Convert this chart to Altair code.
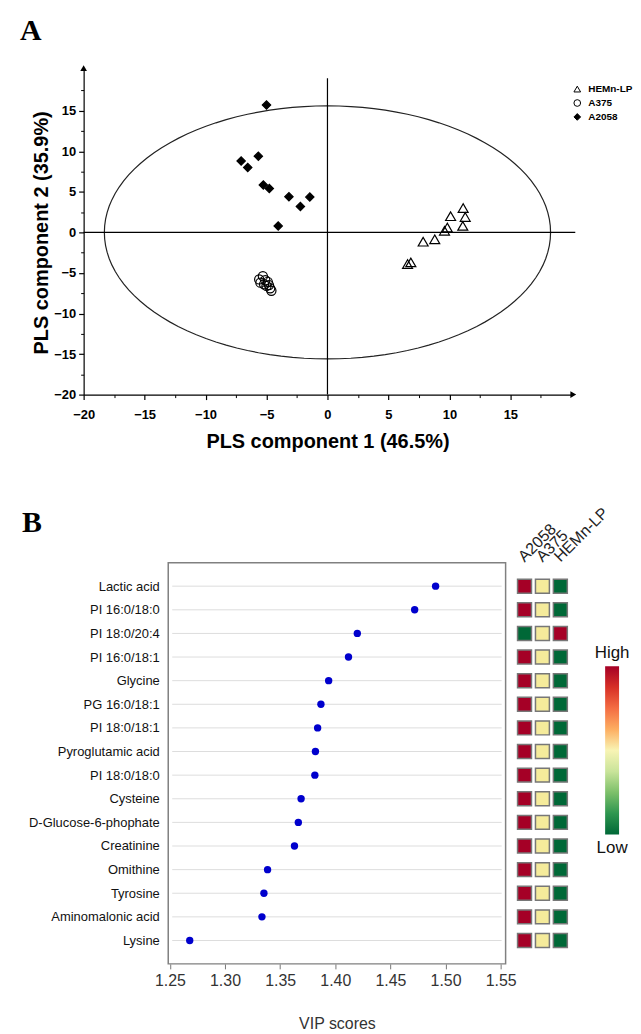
import altair as alt
import pandas as pd

# ---------------- Panel A : PLS score plot ----------------
HEMN_X = [11.13, 10.10, 11.30, 11.10, 9.83, 9.60, 8.80, 7.85, 6.84, 6.57]
HEMN_Y = [3.00, 2.00, 1.90, 0.80, 0.60, 0.20, -0.86, -1.15, -3.70, -3.90]
A375_X = [-5.3, -5.6, -5.1, -5.5, -4.9, -4.8, -5.2, -4.7, -4.6, -5.0]
A375_Y = [-5.4, -5.8, -5.9, -6.2, -6.1, -6.5, -6.4, -6.9, -7.2, -6.6]
A2058_X = [-5.00, -7.08, -5.67, -6.54, -5.26, -4.77, -3.16, -2.22, -1.45, -4.04]
A2058_Y = [15.7, 8.8, 9.4, 8.0, 5.85, 5.4, 4.4, 3.2, 4.35, 0.8]
GROUPS = ["HEMn-LP", "A375", "A2058"]
SHAPES = ["triangle-up", "circle", "diamond"]
FILLS = ["transparent", "transparent", "black"]
SIZES = [100, 70, 130]
ELLIPSE_A = 18.3
ELLIPSE_B = 15.6
X_TICKS_A = [-20, -15, -10, -5, 0, 5, 10, 15]
X_MINOR_A = [-17.5, -12.5, -7.5, -2.5, 2.5, 7.5, 12.5, 17.5]
Y_TICKS_A = [-20, -15, -10, -5, 0, 5, 10, 15]
Y_MINOR_A = [-17.5, -12.5, -7.5, -2.5, 2.5, 7.5, 12.5, 17.5]

# ---------------- Panel B : VIP scores ----------------
COMPOUNDS = ["Lactic acid", "PI 16:0/18:0", "PI 18:0/20:4", "PI 16:0/18:1", "Glycine",
             "PG 16:0/18:1", "PI 18:0/18:1", "Pyroglutamic acid", "PI 18:0/18:0", "Cysteine",
             "D-Glucose-6-phophate", "Creatinine", "Omithine", "Tyrosine",
             "Aminomalonic acid", "Lysine"]
VIP = [1.491, 1.472, 1.420, 1.412, 1.394, 1.387, 1.384, 1.382, 1.3815, 1.369,
       1.3665, 1.363, 1.3386, 1.3353, 1.3335, 1.268]
VIP_TICKS = [1.25, 1.30, 1.35, 1.40, 1.45, 1.50, 1.55]
SAMPLES = ["A2058", "A375", "HEMn-LP"]
LEVEL_A2058 = ["High", "High", "Low", "High", "High", "High", "High", "High",
               "High", "High", "High", "High", "High", "High", "High", "High"]
LEVEL_A375 = ["Mid"] * 16
LEVEL_HEMN = ["Low", "Low", "High", "Low", "Low", "Low", "Low", "Low",
              "Low", "Low", "Low", "Low", "Low", "Low", "Low", "Low"]
LEVELS = ["High", "Mid", "Low"]
LEVEL_COLORS = ["#A50026", "#F5EB9B", "#006837"]
COLORBAR_LABELS = ["High", "Low"]
GRADIENT_STOPS = ["#A50026", "#D73027", "#F46D43", "#FDAE61", "#F8F4B4",
                  "#C9E49A", "#7DC06A", "#2E964F", "#006837"]

FONT = "Liberation Sans, Arial, sans-serif"
NARROW = "'Liberation Sans Narrow', 'Arial Narrow', 'Liberation Sans', Arial, sans-serif"
SERIF = "'Liberation Serif', 'Times New Roman', serif"

WA, HA = 490, 326
WB, HB = 339, 403

zero = pd.DataFrame({"v": [0]})

xsA = alt.Scale(domain=[-20, 20], nice=False, zero=False)
ysA = alt.Scale(domain=[-20, 20], nice=False, zero=False)

axis_x_major = alt.Axis(values=X_TICKS_A, orient="bottom", tickSize=5, tickColor="black",
                        tickWidth=1.2, domainColor="black", domainWidth=1.2, grid=False,
                        labelFont=FONT, labelFontWeight="bold", labelFontSize=13,
                        labelColor="black", labelPadding=9, labelFlush=False,
                        labelOverlap=False, title="PLS component 1 (46.5%)",
                        titleFont=FONT, titleFontSize=20, titleFontWeight="bold",
                        titleColor="black", titlePadding=10)
axis_y_major = alt.Axis(values=Y_TICKS_A, orient="left", tickSize=5, tickColor="black",
                        tickWidth=1.2, domainColor="black", domainWidth=1.2, grid=False,
                        labelFont=FONT, labelFontWeight="bold", labelFontSize=13,
                        labelColor="black", labelPadding=3, labelFlush=False,
                        labelOverlap=False, title="PLS component 2 (35.9%)",
                        titleFont=FONT, titleFontSize=20, titleFontWeight="bold",
                        titleColor="black", titlePadding=2)
axis_x_minor = alt.Axis(values=X_MINOR_A, orient="bottom", tickSize=3, tickColor="black",
                        tickWidth=1, labels=False, domain=False, grid=False, title=None)
axis_y_minor = alt.Axis(values=Y_MINOR_A, orient="left", tickSize=3, tickColor="black",
                        tickWidth=1, labels=False, domain=False, grid=False, title=None)

ptsA = pd.DataFrame({
    "x": HEMN_X + A375_X + A2058_X,
    "y": HEMN_Y + A375_Y + A2058_Y,
    "group": [GROUPS[0]] * len(HEMN_X) + [GROUPS[1]] * len(A375_X) + [GROUPS[2]] * len(A2058_X),
})

shape_scale = alt.Scale(domain=GROUPS, range=SHAPES)
fill_scale = alt.Scale(domain=GROUPS, range=FILLS)

ellipse = alt.Chart(alt.sequence(0, 361, 3, as_="t")).transform_calculate(
    ex=f"{ELLIPSE_A}*cos(datum.t*PI/180)",
    ey=f"{ELLIPSE_B}*sin(datum.t*PI/180)",
).mark_line(color="#222222", strokeWidth=1.2).encode(
    x=alt.X("ex:Q", scale=xsA, axis=axis_x_minor),
    y=alt.Y("ey:Q", scale=ysA, axis=axis_y_minor),
    order="t:Q",
)

hline = alt.Chart(zero).mark_rule(color="black", strokeWidth=1.2).encode(
    y=alt.Y("v:Q", scale=ysA, axis=None), x=alt.value(0), x2=alt.value(WA + 4))
vline = alt.Chart(zero).mark_rule(color="black", strokeWidth=1.2).encode(
    x=alt.X("v:Q", scale=xsA, axis=None), y=alt.value(8), y2=alt.value(HA))

points = alt.Chart(ptsA).mark_point(stroke="black", strokeWidth=1.2, opacity=1).encode(
    x=alt.X("x:Q", scale=xsA, axis=axis_x_major),
    y=alt.Y("y:Q", scale=ysA, axis=axis_y_major),
    shape=alt.Shape("group:N", scale=shape_scale, legend=None),
    fill=alt.Fill("group:N", scale=fill_scale, legend=None),
    size=alt.Size("group:N", scale=alt.Scale(domain=GROUPS, range=SIZES), legend=None),
)

# legend (drawn as marks, fixed pixel positions inside panel A)
legend_layers = []
for i, g in enumerate(GROUPS):
    gdf = pd.DataFrame({"group": [g]})
    legend_layers.append(
        alt.Chart(gdf).mark_point(stroke="black", strokeWidth=1, opacity=1, size=45).encode(
            x=alt.value(496), y=alt.value(19 + 14 * i),
            shape=alt.Shape("group:N", scale=shape_scale, legend=None),
            fill=alt.Fill("group:N", scale=fill_scale, legend=None)))
    legend_layers.append(
        alt.Chart(gdf).mark_text(align="left", baseline="middle", font=FONT, fontSize=10,
                                 fontWeight="bold", color="black").encode(
            text="group:N", x=alt.value(507), y=alt.value(19 + 14 * i)))

yarrow = alt.Chart(zero).mark_point(shape="triangle-up", filled=True, color="black",
                                    size=45, opacity=1).encode(x=alt.value(0), y=alt.value(-2))
xarrow = alt.Chart(zero).mark_point(shape="triangle-right", filled=True, color="black",
                                    size=45, opacity=1).encode(x=alt.value(WA + 2), y=alt.value(HA))

panelA = alt.layer(ellipse, hline, vline, points, yarrow, xarrow, *legend_layers).resolve_axis(
    x="independent", y="independent"
).properties(
    width=WA, height=HA,
    title=alt.TitleParams("A", anchor="start", frame="group", dx=-64, offset=19,
                          font=SERIF, fontSize=30, fontWeight="bold", color="black"),
)

# ---------------- Panel B ----------------
dfB = pd.DataFrame({"name": COMPOUNDS, "vip": VIP})
ysB = alt.Scale(type="point", padding=0.99)
xsB = alt.Scale(domain=[1.2485, 1.5545], nice=False, zero=False)

axis_yB = alt.Axis(ticks=False, domain=False, grid=False, labelFont=FONT, labelFontSize=13,
                   labelColor="#111111", labelPadding=9, title=None)
axis_xB = alt.Axis(values=VIP_TICKS, format=".2f", domain=False, grid=False, tickSize=5,
                   tickColor="#777777", labelFont=NARROW, labelFontSize=16,
                   labelColor="#333333", labelPadding=4, labelFlush=False,
                   labelOverlap=False, title="VIP scores", titleFont=FONT,
                   titleFontSize=16, titleFontWeight="normal", titleColor="#333333",
                   titlePadding=27)

gridB = alt.Chart(dfB).mark_rule(color="#dddddd", strokeWidth=1).encode(
    y=alt.Y("name:N", sort=COMPOUNDS, scale=ysB, axis=axis_yB),
    x=alt.value(4), x2=alt.value(WB - 4))
dots = alt.Chart(dfB).mark_circle(size=55, color="#0000CD", opacity=1).encode(
    x=alt.X("vip:Q", scale=xsB, axis=axis_xB),
    y=alt.Y("name:N", sort=COMPOUNDS, scale=ysB, axis=axis_yB))
frame = alt.Chart(zero).mark_rect(fill="transparent", stroke="#808080", strokeWidth=1.5).encode(
    x=alt.value(0), x2=alt.value(WB), y=alt.value(0), y2=alt.value(HB))

dotplot = alt.layer(gridB, dots, frame).properties(
    width=WB, height=HB,
    title=alt.TitleParams("B", anchor="start", frame="group", dx=-147, offset=24,
                          font=SERIF, fontSize=30, fontWeight="bold", color="black"),
)

heat_rows = []
for i, n in enumerate(COMPOUNDS):
    for s, lv in zip(SAMPLES, [LEVEL_A2058[i], LEVEL_A375[i], LEVEL_HEMN[i]]):
        heat_rows.append({"name": n, "sample": s, "level": lv})
dfH = pd.DataFrame(heat_rows)

heat = alt.Chart(dfH).mark_square(size=196, stroke="#777777", strokeWidth=1.5, opacity=1).encode(
    x=alt.X("sample:N", sort=SAMPLES, scale=alt.Scale(type="point", padding=0.5),
            axis=alt.Axis(orient="top", labelAngle=315, labelAlign="left",
                          labelBaseline="middle", ticks=False, domain=False,
                          labelPadding=4, labelOffset=-4, labelFont=NARROW,
                          labelFontSize=16, labelColor="#222222", title=None)),
    y=alt.Y("name:N", sort=COMPOUNDS, scale=ysB, axis=None),
    color=alt.Color("level:N", scale=alt.Scale(domain=LEVELS, range=LEVEL_COLORS), legend=None),
).properties(width=54, height=HB)

grad = {"gradient": "linear", "x1": 0, "x2": 0, "y1": 0, "y2": 1,
        "stops": [{"offset": i / (len(GRADIENT_STOPS) - 1), "color": c}
                  for i, c in enumerate(GRADIENT_STOPS)]}
bar = alt.Chart(zero).mark_rect(color=grad, opacity=1).encode(
    x=alt.value(26), x2=alt.value(40), y=alt.value(104), y2=alt.value(273))
cb_df = pd.DataFrame({"label": COLORBAR_LABELS})
high_txt = alt.Chart(cb_df).transform_filter(alt.datum.label == COLORBAR_LABELS[0]).mark_text(
    font=FONT, fontSize=17, color="#111111", baseline="bottom").encode(
    text="label:N", x=alt.value(33), y=alt.value(100))
low_txt = alt.Chart(cb_df).transform_filter(alt.datum.label == COLORBAR_LABELS[1]).mark_text(
    font=FONT, fontSize=17, color="#111111", baseline="top").encode(
    text="label:N", x=alt.value(33), y=alt.value(279))
cbar = alt.layer(bar, high_txt, low_txt).properties(width=50, height=HB)

spacer = alt.Chart(zero).mark_point(opacity=0).encode(x=alt.value(0), y=alt.value(0)).properties(
    width=75, height=HB)

panelB = alt.hconcat(spacer, dotplot, heat, cbar, spacing=10, bounds="flush")

chart = alt.vconcat(panelA, panelB, spacing=169, bounds="flush").properties(
    padding={"left": 12, "top": 6, "right": 0, "bottom": 0}
).configure_view(stroke=None)

chart.save("out.html", embed_options={"renderer": "svg", "actions": False})
